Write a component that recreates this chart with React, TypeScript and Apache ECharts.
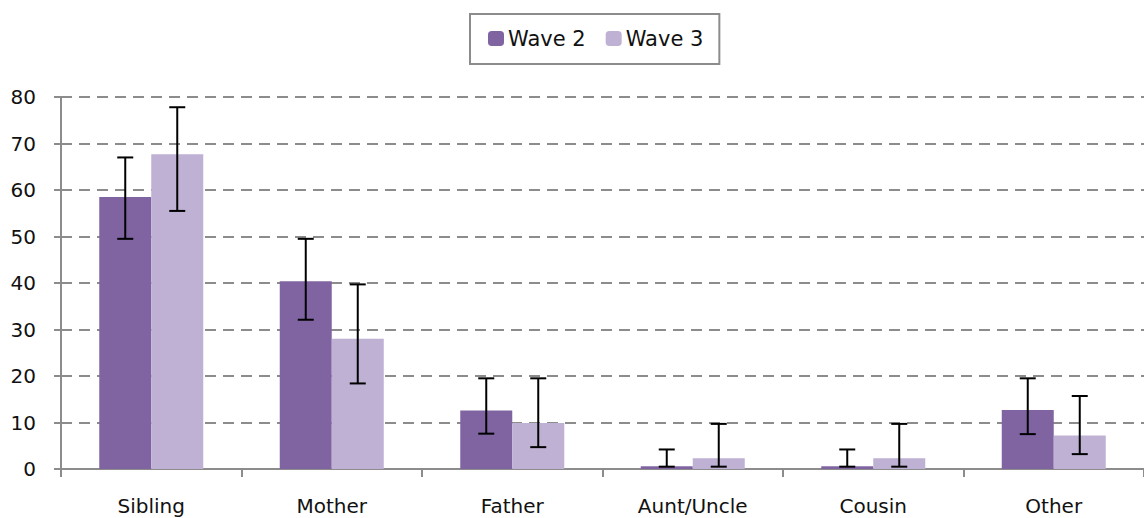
import React, { useEffect, useRef } from "react";
import * as echarts from "echarts";

const categories = ["Sibling", "Mother", "Father", "Aunt/Uncle", "Cousin", "Other"];
const wave2 = [58.5, 40.4, 12.6, 0.6, 0.6, 12.7];
const wave3 = [67.7, 28.0, 9.9, 2.3, 2.3, 7.2];
const wave2Low = [49.5, 32.1, 7.6, 0.5, 0.5, 7.5];
const wave2High = [67.0, 49.5, 19.5, 4.2, 4.2, 19.5];
const wave3Low = [55.5, 18.4, 4.7, 0.5, 0.5, 3.2];
const wave3High = [77.8, 39.7, 19.5, 9.7, 9.7, 15.7];

const FONT = "DejaVu Sans";
const FS = 20;
const BAR_W = 52;

function errorSeries(name: string, low: number[], high: number[], offset: number) {
  return {
    type: "custom",
    name: name + " error",
    z: 10,
    silent: true,
    data: categories.map((_, i) => [i, low[i], high[i]]),
    renderItem: (params: any, api: any) => {
      const lo = api.coord([api.value(0), api.value(1)]);
      const hi = api.coord([api.value(0), api.value(2)]);
      const x = lo[0] + offset;
      const cap = 8;
      const style = { stroke: "#000", lineWidth: 2 };
      return {
        type: "group",
        children: [
          { type: "line", shape: { x1: x, y1: hi[1], x2: x, y2: lo[1] }, style },
          { type: "line", shape: { x1: x - cap, y1: hi[1], x2: x + cap, y2: hi[1] }, style },
          { type: "line", shape: { x1: x - cap, y1: lo[1], x2: x + cap, y2: lo[1] }, style },
        ],
      };
    },
  };
}

export default function App() {
  const ref = useRef<HTMLDivElement>(null);
  useEffect(() => {
    if (!ref.current) return;
    const chart = echarts.init(ref.current, null, { renderer: "svg" });
    chart.setOption({
      animation: false,
      textStyle: { fontFamily: FONT },
      legend: {
        left: 470,
        top: 14,
        padding: [14, 16, 15, 18],
        itemWidth: 16,
        itemHeight: 15,
        itemGap: 20,
        borderColor: "#8c8c8c",
        borderWidth: 2,
        textStyle: { fontFamily: FONT, fontSize: 21, color: "#111", padding: [0, 0, 0, -1] },
        data: ["Wave 2", "Wave 3"],
      },
      grid: { left: 61, top: 97, width: 1092, height: 372, containLabel: false },
      xAxis: {
        type: "category",
        data: categories,
        axisLine: { lineStyle: { color: "#8c8c8c", width: 2 } },
        axisTick: { show: true, length: 8, lineStyle: { color: "#8c8c8c", width: 2 } },
        axisLabel: { fontFamily: FONT, fontSize: FS, color: "#111", margin: 27 },
      },
      yAxis: {
        type: "value",
        min: 0,
        max: 80,
        interval: 10,
        axisLine: { show: true, lineStyle: { color: "#8c8c8c", width: 2 } },
        axisTick: { show: true, length: 7, lineStyle: { color: "#8c8c8c", width: 2 } },
        axisLabel: { fontFamily: FONT, fontSize: FS, color: "#111", margin: 25 },
        splitLine: { lineStyle: { color: "#8c8c8c", width: 2, type: [11, 7] } },
      },
      series: [
        { type: "bar", name: "Wave 2", data: wave2, barWidth: BAR_W, barGap: "0%", itemStyle: { color: "#8064A2" } },
        { type: "bar", name: "Wave 3", data: wave3, barWidth: BAR_W, barGap: "0%", itemStyle: { color: "#BFB1D4" } },
        errorSeries("Wave 2", wave2Low, wave2High, -BAR_W / 2),
        errorSeries("Wave 3", wave3Low, wave3High, BAR_W / 2),
      ],
    });
    return () => chart.dispose();
  }, []);
  return <div ref={ref} style={{ width: 1144, height: 518, position: "absolute", left: 0, top: 0 }} />;
}
